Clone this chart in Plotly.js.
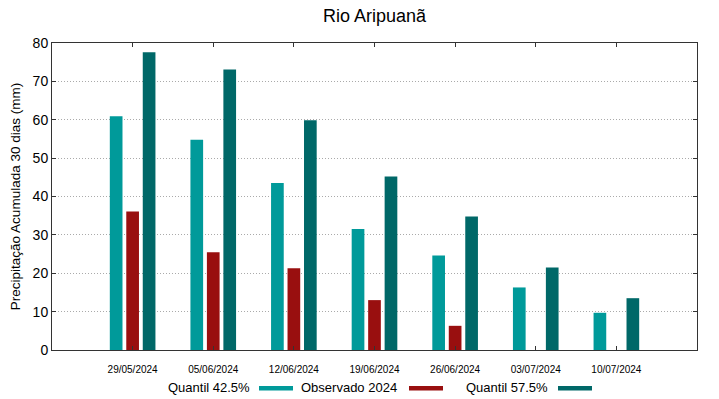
<!DOCTYPE html>
<html><head><meta charset="utf-8">
<script src="https://cdn.plot.ly/plotly-3.0.1.min.js"></script>
<style>body{margin:0;background:#fff}#c{width:719px;height:399px}</style>
</head><body><div id="c"></div>
<script>
const dates = ["29/05/2024","05/06/2024","12/06/2024","19/06/2024","26/06/2024","03/07/2024","10/07/2024"];
const q425 = [60.9, 54.8, 43.5, 31.5, 24.6, 16.3, 9.7];
const obs2024 = [36.1, 25.5, 21.3, 13.0, 6.3, null, null];
const q575 = [77.6, 73.1, 59.9, 45.2, 34.8, 21.5, 13.5];
const names = ["Quantil 42.5%", "Observado 2024", "Quantil 57.5%"];
const colors = ["#009a9a", "#990f0f", "#006868"];

const xs = dates.map((d,i)=>i);
const series = [q425, obs2024, q575];
const data = series.map((s,k)=>({
  type:'bar', x:xs, y:s, name:names[k],
  marker:{color:colors[k]}, showlegend:false
}));

// legend drawn gnuplot-style: text then swatch
const L = 52, W = 645, B = 350, H = 307;
const legTextRight = [252, 399, 550];
const legSw = [[259,293],[409,443],[558,592]];
const annotations = names.map((n,k)=>({
  xref:'paper', yref:'paper', x:(legTextRight[k]-L)/W, y:-(387.5-B)/H,
  xanchor:'right', yanchor:'middle', text:n, showarrow:false,
  font:{family:'Liberation Sans, Arial, sans-serif', size:13, color:'#000'}
}));
const shapes = names.map((n,k)=>({
  type:'rect', xref:'paper', yref:'paper',
  x0:(legSw[k][0]-L)/W, x1:(legSw[k][1]-L)/W,
  y0:-(390.5-B)/H, y1:-(386-B)/H,
  fillcolor:colors[k], line:{width:0}
}));

const layout = {
  width:719, height:399,
  margin:{l:52, r:22, t:43, b:49},
  paper_bgcolor:'#fff', plot_bgcolor:'#fff',
  font:{family:'Liberation Sans, Arial, sans-serif', color:'#000'},
  title:{text:'Rio Aripuanã', xref:'paper', x:0.5, xanchor:'center', yref:'container', y:0.96, yanchor:'middle', font:{size:18}},
  barmode:'group', bargap:0.387, bargroupgap:0.23,
  xaxis:{range:[-1,7], tickvals:xs, ticktext:dates, tickfont:{size:10}, ticklabelstandoff:10,
    showgrid:false, zeroline:false, showline:true, linecolor:'#333', linewidth:1,
    mirror:'ticks', ticks:'inside', ticklen:4, tickcolor:'#333'},
  yaxis:{range:[0,80], dtick:10, tickfont:{size:14},
    title:{text:'Precipitação Acumulada 30 dias (mm)', font:{size:13.5}, standoff:8},
    showgrid:true, gridcolor:'#aaa', griddash:'1px,2px', gridwidth:1, zeroline:false,
    showline:true, linecolor:'#333', linewidth:1, mirror:'ticks', ticks:'inside', ticklen:4, tickcolor:'#333'},
  annotations:annotations, shapes:shapes
};
Plotly.newPlot('c', data, layout, {displayModeBar:false, staticPlot:true});
</script></body></html>
